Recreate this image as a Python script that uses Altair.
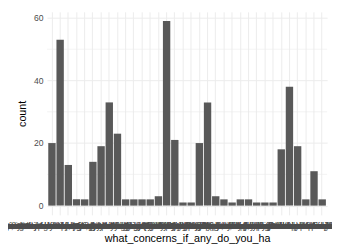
import altair as alt
import pandas as pd

categories = [
    "Accuracy of the information it gives me and whether I can trust it",
    "Accuracy of the information, Privacy of my personal data and conversations",
    "Bias in the results and answers that are produced for different people",
    "Bias in the results, Cost of subscriptions and access to the better tools",
    "Copyright and ownership of the content that is created by these systems",
    "Cost of using these tools in the long run for individuals and businesses",
    "Cost of using these tools, Privacy of the data that I share with them",
    "Data security and how the companies store and use the data they collect",
    "Data security and storage, Privacy of my personal information online",
    "Dependence on technology and losing the ability to think for ourselves",
    "Environmental impact of the energy and water used by large data centres",
    "Ethical concerns about how these systems are trained and then deployed",
    "Ethical concerns about training, Bias in the results that are produced",
    "Impact on jobs in my own industry and in the wider economy over time",
    "I don't have any concerns about using these tools at the current time",
    "Job displacement and the loss of work for people in many different roles",
    "Lack of regulation and oversight from governments and independent bodies",
    "Lack of transparency about how the answers and decisions are produced",
    "Misinformation and the spread of false or misleading content online",
    "Misinformation and fake content, Privacy of the personal data I share",
    "Misuse by bad actors for scams, fraud, deepfakes and other harmful uses",
    "Not sure yet, I would need to learn more about it before I could decide",
    "Other concern not listed here (please specify in the box provided below)",
    "Over-reliance on automated answers instead of expert human judgement",
    "Plagiarism and cheating in schools, colleges and universities everywhere",
    "Prefer not to say or do not wish to answer this particular question here",
    "Privacy of my personal data, conversations and uploaded files and images",
    "Quality of the output and the number of mistakes that it tends to make",
    "Security risks from hacking, data leaks and the misuse of stored records",
    "Security risks and data leaks, Privacy of the information that is shared",
    "Trust and reliability of the answers for important decisions in my life",
    "Unclear about what the real risks are and how serious they might become",
    "Unemployment and the effect on future generations entering the workforce",
    "Other concerns about the speed of change and the direction it is taking"
]
counts = [20, 53, 13, 2, 2, 14, 19, 33, 23, 2, 2, 2, 2, 3, 59, 21, 1,
          1, 20, 33, 3, 2, 1, 2, 2, 1, 1, 1, 18, 38, 19, 2, 11, 2]

y_ticks = [0, 20, 40, 60]
minor_ticks = [10, 30, 50]

df = pd.DataFrame({"cat": categories, "count": counts})
minor_df = pd.DataFrame({"v": minor_ticks})

font = "Liberation Sans"
yscale = alt.Scale(domain=[-2.95, 61.95], nice=False, zero=False)

minor = alt.Chart(minor_df).mark_rule(color="#EBEBEB", strokeWidth=0.6).encode(
    y=alt.Y("v:Q", scale=yscale)
)

bars = alt.Chart(df).mark_bar(color="#595959").encode(
    x=alt.X("cat:N", sort=None,
            scale=alt.Scale(paddingInner=0.1, paddingOuter=0.15),
            axis=alt.Axis(title="what_concerns_if_any_do_you_ha", labelAngle=0,
                          labelOverlap=False, labelLimit=1000, ticks=False,
                          domain=False, grid=True, bandPosition=0.5,
                          gridColor="#EBEBEB", gridWidth=1,
                          labelFontSize=8.8, labelColor="#4D4D4D", labelFont=font,
                          labelPadding=7, titleFontSize=11, titleFont=font,
                          titleColor="#000000", titleFontWeight="normal",
                          titlePadding=3)),
    y=alt.Y("count:Q", scale=yscale,
            axis=alt.Axis(title="count", values=y_ticks, ticks=False, domain=False,
                          grid=True, gridColor="#EBEBEB", gridWidth=1,
                          labelFontSize=8.8, labelColor="#4D4D4D", labelFont=font,
                          labelPadding=4, titleFontSize=11, titleFont=font,
                          titleColor="#000000", titleFontWeight="normal",
                          titlePadding=6)),
)

chart = alt.layer(minor, bars).properties(
    width=287, height=208,
    autosize=alt.AutoSizeParams(type="none"),
    padding={"left": 40, "top": 1, "right": 5, "bottom": 30},
).configure_view(stroke=None)

chart.save("out.html", embed_options={"renderer": "svg", "actions": False})
